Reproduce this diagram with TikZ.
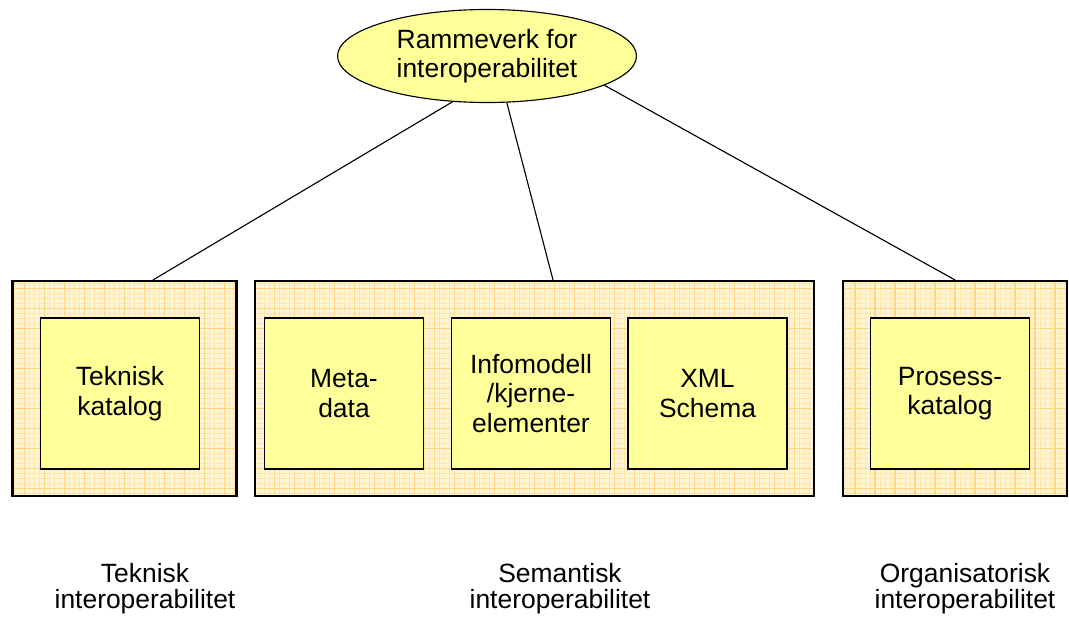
\documentclass[tikz,border=0pt]{standalone}
\usepackage{fontspec}
\setmainfont{Liberation Sans}
\usetikzlibrary{positioning,calc,shapes}

\definecolor{boxyellow}{RGB}{255,255,153}
\definecolor{plaidbg}{RGB}{255,244,214}
\definecolor{plaidline}{RGB}{255,214,130}
\definecolor{plaidthin}{RGB}{255,230,170}

\begin{document}
\begin{tikzpicture}[font = \fontsize{18.8}{21}\selectfont, node distance = 1.75cm]
\tikzstyle{frame}=[
  draw = black,
  line width = 1.5pt,
  fill = plaidbg,
  minimum height = 5.375cm,
  path picture = {
    \draw[plaidthin, line width = 0.4pt] (path picture bounding box.south west) grid[step = 0.125cm] (path picture bounding box.north east);
    \draw[plaidline, line width = 1.2pt] (path picture bounding box.south west) grid[step = 0.5cm] (path picture bounding box.north east);
  }
]
\tikzstyle{card}=[
  draw = black,
  line width = 1.2pt,
  fill = boxyellow,
  minimum width = 3.975cm,
  minimum height = 3.775cm,
  inner sep = 0pt,
  align = center
]
\tikzstyle{ramme}=[
  ellipse,
  draw = black,
  line width = 0.8pt,
  fill = boxyellow,
  minimum width = 7.475cm,
  minimum height = 2.325cm,
  inner sep = 0pt,
  align = center
]
\tikzstyle{caption}=[align = center, font = \fontsize{18.8}{18.5}\selectfont]

\useasboundingbox (0,0) rectangle (26.725,-15.475);

\node[ramme] (R) at (12.175,-1.4) {Rammeverk for\\interoperabilitet};

% outer frames
\node[frame, minimum width = 5.6cm] (T) at (3.1125,-9.7125) {};
\node[frame, minimum width = 13.975cm] (S) at (13.3625,-9.7125) {};
\node[frame, minimum width = 5.6cm] (O) at (23.875,-9.7125) {};

% inner boxes
\node[card] (TK) at (3.0,-9.8375) {Teknisk\\katalog};
\node[card] (MD) at (8.6,-9.8375) {Meta-\\data};
\node[card] (IM) [right of = MD, xshift = 2.925cm] {Infomodell\\/kjerne-\\elementer};
\node[card] (XS) [right of = IM, xshift = 2.6625cm] {XML\\Schema};
\node[card] (PK) at (23.75,-9.8375) {Prosess-\\katalog};

% captions
\node[caption] (TL) at (3.625,-14.725) {Teknisk\\interoperabilitet};
\node[caption] (SL) at (14.0,-14.725) {Semantisk\\interoperabilitet};
\node[caption] (OL) at (24.125,-14.725) {Organisatorisk\\interoperabilitet};

\draw[line width = 0.8pt] (R.-127) -- ([xshift = 0.7125cm]T.north);
\draw[line width = 0.8pt] (R.-67) -- ([xshift = 0.4625cm]S.north);
\draw[line width = 0.8pt] (R.-14) -- (O.north);
\end{tikzpicture}
\end{document}
